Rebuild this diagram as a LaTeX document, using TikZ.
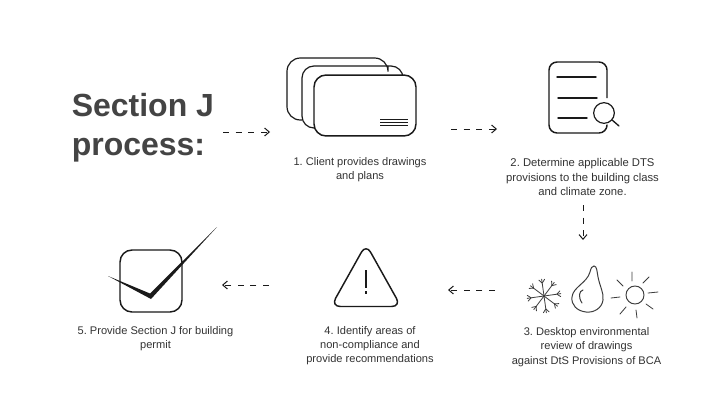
\documentclass[tikz,border=0pt]{standalone}
\usepackage{fontspec}
\setmainfont{Liberation Sans}
\usetikzlibrary{arrows.meta}
\definecolor{ink}{HTML}{1A1A1A}
\definecolor{titleink}{HTML}{444444}
\definecolor{captionink}{HTML}{333333}
\tikzset{
  x=0.75pt,y=-0.75pt,
  flow/.style={draw=ink,line width=0.75pt,dash pattern=on 4.5pt off 5pt,-{Straight Barb[length=3.5pt,width=6pt,line width=0.75pt]}},
  icon/.style={draw=ink,line width=1.1pt,line join=round},
  thinicon/.style={draw=ink!85,line width=0.6pt,line cap=round},
  caption/.style={align=center,text=captionink,font=\fontsize{8.3pt}{10.6pt}\selectfont,inner sep=0pt},
  titletext/.style={align=left,text=titleink,font=\fontsize{24pt}{29.25pt}\bfseries\selectfont,inner sep=0pt,anchor=north west},
}
\begin{document}
\frenchspacing
\begin{tikzpicture}
\useasboundingbox (0,0) rectangle (724,407);
\fill[white] (0,0) rectangle (724,407);
\node[titletext] (title) at (71.5,93) {Section J\\process:};
% cards
\draw[icon,line width=0.9pt,rounded corners=10pt] (302,120) -- (287,120) -- (287,58) -- (388,58) -- (388,66);
\draw[icon,line width=0.9pt,rounded corners=9pt] (314,128) -- (302,128) -- (302,66) -- (403,66) -- (403,75);
\node[icon,rounded corners=9pt,minimum width=76.5pt,minimum height=45.7pt,inner sep=0pt,fill=white] (card) at (365,105.5) {};
\draw[draw=ink,line width=0.7pt] (380,119)--(408,119) (380,122)--(408,122) (380,125)--(408,125);
\node[caption] (cap1) at (360,170) {1. Client provides drawings\\and plans};
% document
\draw[icon,rounded corners=6pt] (607,98) -- (607,62) -- (549,62) -- (549,133) -- (607,133) -- (607,126.5);
\draw[icon,line cap=round] (557,77)--(596,77) (558,98)--(597,98) (558,118)--(587,118);
\node[draw=ink,line width=0.9pt,circle,minimum size=15.5pt,inner sep=0pt] (lens) at (604,113) {};
\coordinate (handle) at (619,126);
\draw[draw=ink,line width=1pt,line cap=round] (lens) -- (handle);
\node[caption,font=\fontsize{8.45pt}{10.6pt}\selectfont] (cap2) at (582.5,177) {2. Determine applicable DTS\\provisions to the building class\\and climate zone.};
% snowflake
\coordinate (snow) at (544,296);
\foreach \a in {-8,37,...,307}{
  \draw[thinicon] (snow) -- ++(\a:17);
  \draw[thinicon] (snow) ++(\a:13) -- ++(\a+40:4.5);
  \draw[thinicon] (snow) ++(\a:13) -- ++(\a-40:4.5);
}
% drop
\draw[thinicon,line width=0.75pt] (594,266) .. controls (597,266) and (597,272) .. (598,277) .. controls (600,287) and (604,293) .. (603,300) .. controls (602,308) and (594,313) .. (586,312) .. controls (577,311) and (571,305) .. (572,297) .. controls (573,287) and (587,283) .. (590,272) .. controls (591,268) and (592,266) .. (594,266) -- cycle;
\draw[thinicon,line width=0.75pt] (582,303) .. controls (578,297) and (579,291) .. (583,290);
% sun
\node[draw=ink!85,line width=0.7pt,circle,minimum size=13.5pt,inner sep=0pt] (sun) at (635,295) {};
\draw[thinicon] (617,280)--(623,286) (649,277)--(643,283) (648,293)--(658,292) (653,309)--(646,304)
  (637,318)--(636,310) (620,314)--(626,307) (611,298)--(620,297) (632,272)--(632,281);
\node[caption] (cap3) at (586.5,347) {3. Desktop environmental\\review of drawings\\against DtS Provisions of BCA};
% triangle
\draw[icon,rounded corners=7pt] (366,244) -- (401,306.5) -- (331,306.5) -- cycle;
\draw[draw=ink,line width=0.9pt] (366,270) -- (366,288);
\draw[draw=ink,line width=0.9pt] (366,291) -- (366,293.5);
\node[caption] (cap4) at (370,346) {4. Identify areas of\\non-compliance and\\provide recommendations};
% check
\node[icon,rounded corners=9pt,minimum width=46.5pt,minimum height=46.5pt,inner sep=0pt] (box) at (151,281) {};
\fill[ink] (108,276) -- (150,293.5) -- (217,227) -- (151,299) -- cycle;
\node[caption] (cap5) at (155.5,339) {5. Provide Section J for building\\permit};
% flow
\coordinate (a1) at (223,132); \coordinate (a2) at (270,132);
\coordinate (b1) at (451,129); \coordinate (b2) at (497,129);
\coordinate (c1) at (583,205); \coordinate (c2) at (583,240);
\coordinate (d1) at (495,290); \coordinate (d2) at (448,290);
\coordinate (e1) at (269,285); \coordinate (e2) at (222,285);
\draw[flow] (a1) -- (a2);
\draw[flow] (b1) -- (b2);
\draw[flow] (c1) -- (c2);
\draw[flow] (d1) -- (d2);
\draw[flow] (e1) -- (e2);
\end{tikzpicture}
\end{document}
